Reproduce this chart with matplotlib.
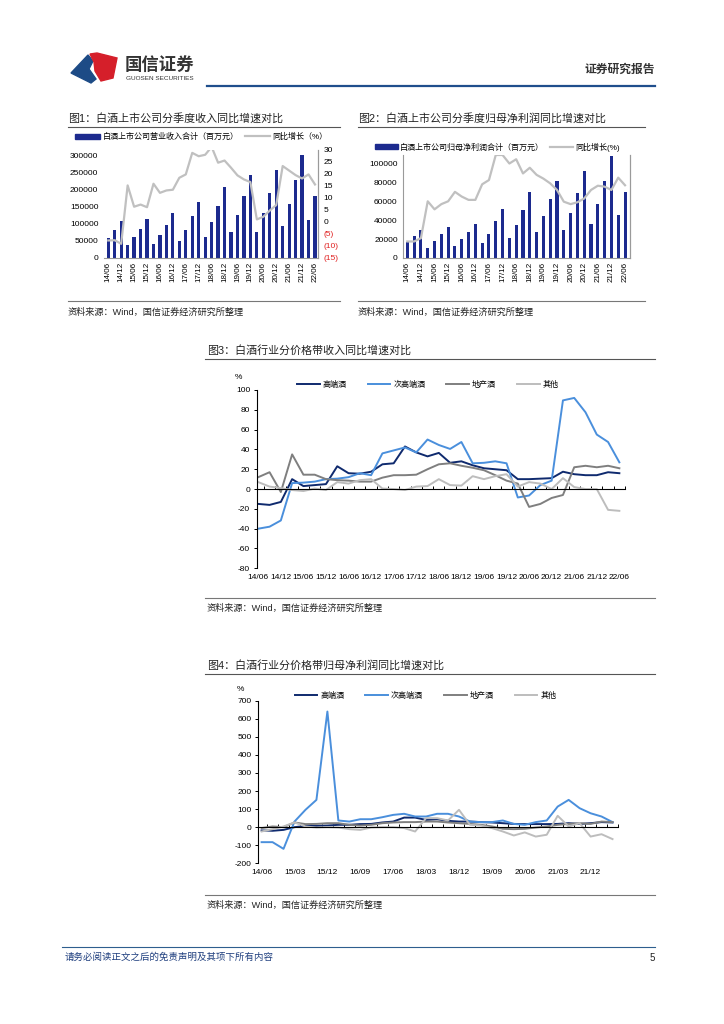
import numpy as np
import matplotlib.pyplot as plt
from matplotlib.lines import Line2D
from matplotlib.patches import Polygon, Patch

plt.rcParams['font.family'] = ['Liberation Sans', 'Noto Sans CJK SC', 'DejaVu Sans']
plt.rcParams['axes.unicode_minus'] = False

W, H = 724, 1024

# quarterly periods 14/06 ... 22/06
quarters = [f'{y:02d}/{m}' for y in range(14, 23) for m in ('03', '06', '09', '12')][1:-2]

# fig 1: cumulative revenue (million yuan) and yoy (%)
revenue = [58000, 80000, 108000, 36000, 60000, 85000, 113000, 40000, 67000, 95000,
           130000, 48000, 80000, 122000, 165000, 62000, 106000, 153000, 207000, 75000,
           126000, 180000, 243000, 76000, 130000, 190000, 258000, 93000, 157000, 228000,
           303000, 112000, 180000]
revenue_yoy = [-7.8, -7.7, -9.2, 15.2, 6.3, 7.2, 6.1, 15.9, 12.1, 13.1, 13.4, 18.4, 19.8,
               28.8, 27.4, 28.0, 31.3, 24.7, 25.6, 22.6, 19.4, 17.7, 16.6, 1.0, 2.1, 4.7,
               7.0, 23.3, 21.4, 19.5, 18.1, 19.8, 15.6]

# fig 2: cumulative net profit (million yuan) and yoy (line, own unlabeled scale)
profit = [17000, 23000, 30000, 11000, 18000, 25000, 33000, 13000, 20000, 28000, 36000,
          16000, 25000, 39000, 52000, 21000, 35000, 51000, 70000, 28000, 44000, 62000,
          82000, 30000, 48000, 69000, 92000, 36000, 57000, 82000, 108000, 45000, 70000]
profit_yoy = [17.5, 17.5, 21, 60, 51.5, 57, 60, 70, 65, 61.5, 61.5, 78, 82.5, 109, 109,
              100, 104.5, 89.5, 95.5, 88, 84, 79, 72, 59.6, 57, 59, 63, 72, 76.5, 75.5,
              72, 85, 77]

series_names = ['高端酒', '次高端酒', '地产酒', '其他']
series_colors = ['#0f2a6e', '#4a8fdc', '#7f7f7f', '#bdbdbd']

# fig 3: revenue yoy by price band (%)
rev_high = [-15, -16, -13, 10, 3, 4, 5, 23, 16, 15.5, 17.5, 25, 26, 43, 37, 33, 36.5,
            26.5, 28, 24, 21, 20, 19, 10, 10, 10.5, 11, 17.5, 15, 14, 14, 17, 16]
rev_sub = [-40, -38, -31.7, 6, 6.5, 7.5, 10, 10.5, 12, 16, 14, 36, 39, 42, 37, 50, 44.5,
           40.5, 47.5, 26, 26.5, 28, 26, -8.5, -6.5, 4, 8.5, 89.5, 92, 77.5, 55, 47.5, 27]
rev_local = [12, 17, -3, 35, 14.5, 14.5, 10, 9, 8.5, 7.5, 7.5, 11.5, 14, 14, 14.5, 20, 25,
             26, 23.5, 21.5, 19, 14, 8.5, 5.5, -18, -15, -9, -6, 22, 23.5, 22, 23.5, 21]
rev_other = [7, 2.5, 1, -1, -2, 0.5, -1, 7, 5.5, 9, 10, 0.5, 0, -1, 2.5, 3, 10, 4, 3.5,
             13, 10, 13, 15, 2.5, 7, 5.5, 0, 11, 2, 0, 0, -21, -22]

# fig 4: net profit yoy by price band (%)
np_high = [-18, -20, -15, 0, 7, 7, 9, 13, 13, 17, 18, 26, 31, 53, 53, 40, 44, 35, 31, 31,
           28, 26, 22, 18, 17, 17, 17, 18, 22, 18, 22, 28, 26]
np_sub = [-83, -83, -120, 31, 96, 151, 640, 37, 31, 44, 44, 55, 68, 74, 59, 59, 74, 74, 59,
          31, 28, 28, 37, 18, 13, 28, 37, 114, 151, 105, 77, 59, 28]
np_local = [-5, 4, 0, 26, 17, 18, 22, 22, 13, 9, 13, 22, 26, 28, 28, 31, 31, 26, 22, 18,
            13, 4, -9, -11, -9, -2, 4, 13, 18, 22, 18, 31, 28]
np_other = [-24, -11, 4, 26, 4, -2, 0, -2, -11, -15, -2, 0, 0, -5, -24, 50, 50, 37, 96, 13,
            9, -5, -24, -46, -29, -52, -42, 63, 4, 22, -52, -39, -66]

rev_ticks = [0, 50000, 100000, 150000, 200000, 250000, 300000]
yoy_ticks = [-15, -10, -5, 0, 5, 10, 15, 20, 25, 30]
profit_ticks = [0, 20000, 40000, 60000, 80000, 100000]

fig = plt.figure(figsize=(W / 100, H / 100), dpi=100)
fig.patch.set_facecolor('white')


def fx(x):
    return x / W


def fy(y):
    return 1 - y / H


def add_ax(x0, y0, x1, y1):
    return fig.add_axes([fx(x0), fy(y1), (x1 - x0) / W, (y1 - y0) / H])


def hline(x0, x1, y, color='#666666', lw=0.8):
    fig.add_artist(Line2D([fx(x0), fx(x1)], [fy(y), fy(y)], color=color, lw=lw,
                          transform=fig.transFigure))


def ftext(x, y, s, **kw):
    fig.text(fx(x), fy(y), s, **kw)


# ---------- header ----------
blue_pts = [(71, 73), (88, 55), (93, 61), (89, 69), (96, 79), (91, 83)]
red_pts = [(90, 54), (97, 53), (117, 58), (113, 78), (101, 81), (95, 71), (94, 62)]
fig.add_artist(Polygon([(fx(a), fy(b)) for a, b in blue_pts], closed=True,
                       color='#1d4b86', transform=fig.transFigure))
fig.add_artist(Polygon([(fx(a), fy(b)) for a, b in red_pts], closed=True,
                       color='#d51f2a', transform=fig.transFigure))
ftext(125, 64, '国信证券', fontsize=12.5, fontweight='bold', color='#333333',
      va='center', ha='left')
ftext(126, 78, 'GUOSEN SECURITIES', fontsize=4.6, color='#333333', va='center', ha='left')
ftext(655, 70, '证券研究报告', fontsize=8.5, fontweight='bold', color='#333333',
      va='center', ha='right')
hline(207, 655, 86, color='#1f4e8c', lw=1.6)

# ---------- footer ----------
hline(62, 655, 947, color='#2e5e8e', lw=0.8)
ftext(65, 957, '请务必阅读正文之后的免责声明及其项下所有内容', fontsize=6.8,
      color='#1f3f7f', va='center', ha='left', style='italic')
ftext(655, 958, '5', fontsize=7, color='#222222', va='center', ha='right')

source = '资料来源：Wind，国信证券经济研究所整理'
title_kw = dict(fontsize=7.9, color='#222222', va='center', ha='left')
src_kw = dict(fontsize=6.6, color='#222222', va='center', ha='left')

x = np.arange(len(quarters))
half_ticks = x[::2]
half_labels = quarters[::2]

# ---------- fig 1 ----------
ftext(68, 118, '图1：白酒上市公司分季度收入同比增速对比', **title_kw)
hline(68, 340, 127, color='#555555')
hline(68, 340, 301, color='#777777')
ftext(68, 312, source, **src_kw)

ax1 = add_ax(104, 150, 317.7, 257.7)
ax1.bar(x, revenue, width=0.5, color='#1c2a8e', zorder=2)
ax1.set_xlim(-0.66, 32.42)
ax1.set_ylim(0, 316700)
ax1.set_yticks(rev_ticks)
ax1.set_yticklabels([str(v) for v in rev_ticks])
ax1.set_xticks(half_ticks)
ax1.set_xticklabels(half_labels, rotation=90, va='top', ha='center')
ax1.tick_params(axis='y', length=0, pad=4, labelsize=6)
ax1.tick_params(axis='x', length=0, pad=3, labelsize=5.8)
for s in ['left', 'top']:
    ax1.spines[s].set_visible(False)
for s in ['bottom', 'right']:
    ax1.spines[s].set_color('#9a9a9a')
    ax1.spines[s].set_linewidth(0.8)
ax1b = ax1.twinx()
ax1b.plot(x, revenue_yoy, color='#c0c0c0', lw=1.6, zorder=3)
ax1b.set_ylim(-15, 30)
ax1b.set_yticks(yoy_ticks)
ax1b.set_yticklabels([f'({-v})' if v < 0 else str(v) for v in yoy_ticks])
for lab, v in zip(ax1b.get_yticklabels(), yoy_ticks):
    if v < 0:
        lab.set_color('#e02020')
ax1b.tick_params(axis='y', length=0, pad=4, labelsize=6)
for s in ['left', 'top', 'bottom']:
    ax1b.spines[s].set_visible(False)
ax1b.spines['right'].set_color('#9a9a9a')
ax1b.spines['right'].set_linewidth(0.8)
h1 = [Patch(color='#1c2a8e'), Line2D([], [], color='#c0c0c0', lw=1.6)]
ax1.legend(h1, ['白酒上市公司营业收入合计（百万元）', '同比增长（%）'], loc='center left',
           bbox_to_anchor=(fx(75 - 104) * W / 213.7, (257.7 - 137) / 107.7), ncol=2,
           frameon=False, fontsize=5.8, handlelength=3.1, handleheight=0.6,
           handletextpad=0.3, columnspacing=0.8, borderpad=0, borderaxespad=0)

# ---------- fig 2 ----------
ftext(358, 118, '图2：白酒上市公司分季度归母净利润同比增速对比', **title_kw)
hline(358, 645, 127, color='#555555')
hline(358, 645, 301, color='#777777')
ftext(358, 312, source, **src_kw)

ax2 = add_ax(403.3, 155, 630, 258)
ax2.bar(x, profit, width=0.45, color='#1c2a8e', zorder=2)
ax2.set_xlim(-0.59, 32.73)
ax2.set_ylim(0, 109000)
ax2.set_yticks(profit_ticks)
ax2.set_yticklabels([str(v) for v in profit_ticks])
ax2.set_xticks(half_ticks)
ax2.set_xticklabels(half_labels, rotation=90, va='top', ha='center')
ax2.tick_params(axis='y', length=0, pad=4, labelsize=6)
ax2.tick_params(axis='x', length=0, pad=3, labelsize=5.8)
ax2.spines['top'].set_visible(False)
for s in ['bottom', 'left', 'right']:
    ax2.spines[s].set_color('#9a9a9a')
    ax2.spines[s].set_linewidth(0.8)
ax2b = ax2.twinx()
ax2b.plot(x, profit_yoy, color='#c0c0c0', lw=1.6, zorder=3)
ax2b.set_ylim(0, 109)
ax2b.set_yticks([])
for s in ['left', 'top', 'bottom']:
    ax2b.spines[s].set_visible(False)
ax2b.spines['right'].set_color('#9a9a9a')
ax2b.spines['right'].set_linewidth(0.8)
h2 = [Patch(color='#1c2a8e'), Line2D([], [], color='#c0c0c0', lw=1.6)]
ax2.legend(h2, ['白酒上市公司归母净利润合计（百万元）', '同比增长(%)'], loc='center left',
           bbox_to_anchor=((375 - 403.3) / 226.7, (258 - 147) / 103), ncol=2,
           frameon=False, fontsize=5.8, handlelength=2.8, handleheight=0.6,
           handletextpad=0.3, columnspacing=0.8, borderpad=0, borderaxespad=0)


# ---------- fig 3 / fig 4 ----------
def band_chart(rect, xlim, ylim, yticks, data, label_idx, title_y, title, src_y):
    ftext(207, title_y, title, **title_kw)
    hline(205, 655, title_y + 9, color='#555555')
    hline(205, 655, src_y - 10, color='#777777')
    ftext(207, src_y, source, **src_kw)
    ax = add_ax(*rect)
    for vals, name, col in zip(data, series_names, series_colors):
        ax.plot(x, vals, color=col, lw=1.4, label=name)
    ax.set_xlim(*xlim)
    ax.set_ylim(*ylim)
    ax.set_yticks(yticks)
    ax.spines['top'].set_visible(False)
    ax.spines['right'].set_visible(False)
    ax.spines['bottom'].set_position(('data', 0))
    ax.spines['bottom'].set_linewidth(0.8)
    ax.spines['left'].set_linewidth(0.8)
    ax.set_xticks(np.arange(0.5, 33, 1.0))
    ax.tick_params(axis='x', direction='in', length=2.2, width=0.7, labelbottom=False)
    ax.tick_params(axis='y', direction='out', length=2.2, width=0.7, pad=2.5, labelsize=6)
    sec = ax.secondary_xaxis(0.0)
    sec.set_xticks(x[label_idx])
    sec.set_xticklabels([quarters[i] for i in label_idx])
    sec.tick_params(length=0, pad=4, labelsize=6)
    sec.spines['bottom'].set_visible(False)
    ax.text(-0.05, 1.07, '%', transform=ax.transAxes, fontsize=6, ha='center', va='center')
    ax.legend(loc='center', bbox_to_anchor=(0.465, 1.03), ncol=4, frameon=False,
              fontsize=5.8, handlelength=2.8, handletextpad=0.4, columnspacing=2.6,
              borderpad=0, borderaxespad=0)
    return ax


band_chart((256.7, 390, 625, 568.3), (-0.14, 32.5), (-80, 100), np.arange(-80, 101, 20),
           [rev_high, rev_sub, rev_local, rev_other], list(range(0, 33, 2)),
           350, '图3：白酒行业分价格带收入同比增速对比', 608)
band_chart((258.3, 700.7, 618, 863.3), (-0.3, 32.2), (-200, 700), np.arange(-200, 701, 100),
           [np_high, np_sub, np_local, np_other], list(range(0, 31, 3)),
           665, '图4：白酒行业分价格带归母净利润同比增速对比', 905)

fig.savefig('out.png', dpi=100)
